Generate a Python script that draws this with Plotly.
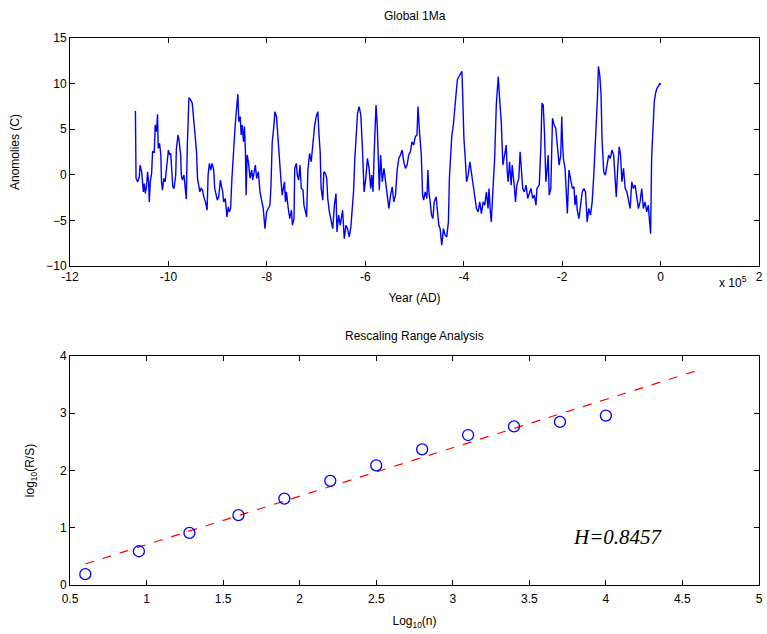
import plotly.graph_objects as go

# ---- Global temperature anomaly record, last ~1 Ma ----
# years before present in ka (thousands of years), anomaly in deg C
years_ka = [
    -1067.1, -1066.4, -1065.8, -1062.4, -1059.1, -1057.7, -1054.4, -1051.0, -1049.0, -1047.0,
    -1044.3, -1042.3, -1040.3, -1038.9, -1036.9, -1034.2, -1032.2, -1028.8, -1026.8, -1024.1,
    -1022.1, -1020.8, -1018.1, -1015.4, -1014.1, -1012.1, -1009.4, -1006.7, -1003.3, -1000.0,
    -997.3, -995.3, -993.9, -991.2, -988.6, -985.2, -983.8, -980.5, -978.5, -977.1,
    -975.1, -973.8, -971.8, -968.4, -966.4, -963.7, -961.7, -958.3, -955.0, -951.6,
    -948.3, -944.9, -942.9, -940.9, -938.9, -936.2, -933.5, -930.8, -928.1, -924.8,
    -921.4, -919.4, -916.7, -914.0, -911.3, -908.0, -906.0, -903.3, -900.6, -897.9,
    -894.5, -891.9, -889.8, -887.8, -884.5, -881.1, -878.4, -876.4, -873.7, -871.0,
    -867.7, -864.3, -861.0, -858.9, -856.9, -854.2, -852.2, -850.2, -847.5, -845.5,
    -843.5, -842.2, -840.1, -837.5, -834.1, -830.8, -828.7, -826.1, -823.4, -820.7,
    -817.3, -814.0, -810.6, -807.3, -803.9, -800.5, -797.2, -793.8, -791.8, -789.1,
    -785.8, -783.7, -780.4, -777.0, -773.6, -771.6, -768.9, -766.3, -764.2, -762.2,
    -760.2, -756.9, -753.5, -750.1, -748.1, -744.8, -743.4, -740.1, -738.1, -735.4,
    -732.7, -730.0, -726.6, -724.6, -721.9, -719.2, -716.6, -713.2, -709.9, -706.5,
    -703.1, -699.8, -696.4, -694.4, -691.7, -689.7, -686.3, -684.3, -681.0, -678.3,
    -676.3, -672.9, -669.6, -666.2, -662.8, -659.5, -657.5, -654.1, -650.8, -646.1,
    -642.7, -639.3, -636.0, -632.6, -629.3, -625.9, -623.9, -621.2, -619.2, -615.8,
    -612.5, -609.1, -605.8, -602.4, -599.0, -595.7, -592.3, -589.0, -587.0, -584.3,
    -582.3, -580.3, -578.2, -575.6, -573.5, -571.5, -568.8, -565.5, -562.1, -558.8,
    -555.4, -552.0, -548.7, -545.3, -542.0, -538.6, -535.3, -531.9, -528.5, -525.2,
    -521.8, -518.5, -515.1, -511.8, -508.4, -505.0, -501.7, -498.3, -495.0, -492.9,
    -489.6, -486.2, -483.5, -481.5, -478.2, -474.8, -472.8, -470.8, -468.1, -465.4,
    -462.7, -460.0, -456.0, -453.3, -450.6, -447.9, -444.6, -441.2, -437.9, -434.5,
    -431.1, -429.1, -426.5, -424.4, -421.1, -419.1, -415.7, -413.0, -409.7, -405.6,
    -403.6, -402.3, -399.6, -396.9, -394.2, -390.9, -387.5, -384.1, -380.8, -377.4,
    -374.1, -370.7, -367.4, -364.0, -360.6, -357.3, -353.9, -350.6, -348.6, -345.9,
    -343.9, -340.5, -337.1, -333.8, -331.8, -329.8, -327.1, -323.7, -320.4, -317.0,
    -313.6, -311.6, -309.6, -306.9, -303.6, -301.5, -298.9, -296.8, -294.8, -292.1,
    -288.1, -285.4, -283.4, -280.1, -276.7, -273.3, -270.0, -266.6, -263.3, -259.9,
    -256.6, -253.2, -251.2, -246.5, -243.1, -241.1, -238.4, -235.7, -233.1, -231.0,
    -228.4, -226.3, -223.0, -219.6, -216.3, -212.9, -210.9, -208.9, -206.2, -202.8,
    -200.8, -199.5, -197.5, -194.1, -191.4, -189.4, -186.1, -182.7, -179.3, -176.0,
    -174.0, -171.3, -169.3, -165.9, -162.6, -159.2, -155.8, -152.5, -149.1, -145.8,
    -142.4, -139.0, -135.7, -132.3, -130.3, -128.3, -126.3, -123.6, -120.9, -118.9,
    -115.5, -112.2, -108.8, -105.5, -102.1, -98.8, -95.4, -92.0, -90.0, -86.7,
    -84.0, -81.3, -78.6, -75.3, -71.9, -68.5, -65.2, -61.8, -58.5, -55.1,
    -51.7, -48.4, -45.0, -41.7, -38.3, -35.0, -31.6, -28.2, -24.9, -22.9,
    -20.2, -18.2, -14.8, -12.8, -10.1, -7.4, -4.7, -1.4, 0.0,
]
anomaly_c = [
    7.00, 3.70, -0.40, -0.77, -0.22, 1.07, 0.33, -1.87, -0.95, -2.05,
    -1.13, 0.33, -0.77, -2.97, -0.77, 0.15, 2.53, 2.46, 5.46, 4.73,
    6.64, 2.90, 3.45, 2.17, -0.77, -1.68, -0.40, -0.77, 1.07, 2.71,
    2.17, 2.35, 1.07, -1.32, -1.50, -0.03, 2.90, 4.36, 3.81, 3.26,
    2.17, -0.03, -0.58, -0.03, -1.32, -2.67, 3.08, 8.47, 8.21, 7.85,
    5.83, 3.08, 2.53, -0.40, -1.13, -1.87, -1.50, -1.68, -2.42, -2.97,
    -3.88, -0.03, 1.25, 0.52, 1.25, 0.52, -1.50, -2.23, -2.78, -2.42,
    -0.58, -1.32, -1.87, -2.97, -2.60, -4.62, -3.52, -4.07, -3.70, -0.40,
    3.08, 5.46, 7.66, 8.84, 5.83, 6.38, 4.36, 5.46, 3.63, 5.28,
    2.53, -2.23, 2.17, 1.43, -0.40, 0.52, -0.58, 0.15, 1.07, -0.40,
    0.33, -1.87, -2.78, -3.70, -5.90, -4.07, -3.70, -3.33, -1.50, 3.63,
    5.28, 6.93, 6.38, 3.26, 1.07, -0.40, -2.23, -1.50, -0.77, -2.97,
    -1.87, -3.52, -4.80, -3.88, -5.53, -4.80, 0.70, 1.25, -0.03, -0.58,
    1.07, -1.50, -1.68, -3.33, -4.07, -4.62, 0.52, 2.35, 1.43, 3.45,
    5.28, 6.38, 6.93, 4.73, 2.53, -1.50, -2.78, 0.33, 0.15, -0.40,
    -2.60, -4.07, -4.80, -5.90, -3.33, -2.05, -6.26, -4.43, -5.53, -3.88,
    -7.00, -5.53, -5.90, -6.81, -5.71, -2.97, -1.87, 1.80, 4.36, 6.75,
    7.48, 6.56, 2.90, -1.87, -0.40, 1.80, 0.70, -1.50, -0.03, -1.87,
    1.80, 5.10, 7.66, 5.28, 0.70, -1.68, 2.17, -0.77, 0.70, -0.95,
    -2.23, -3.70, -2.23, -1.32, -2.97, -2.23, 0.52, 1.80, 2.17, 2.71,
    1.43, 0.70, 1.07, 2.17, 2.53, 3.63, 3.26, 4.18, 4.36, 7.48,
    4.55, 2.17, -2.23, -2.78, -1.87, -2.60, 0.52, -1.87, -2.97, -4.43,
    -4.80, -2.97, -2.42, -3.70, -5.53, -5.90, -7.73, -5.90, -6.63, -6.81,
    -5.17, -0.40, 2.90, 4.18, 5.46, 6.75, 8.95, 10.41, 10.78, 11.14,
    11.33, 9.13, 4.00, 1.80, -0.77, -0.03, 1.43, 0.15, -1.13, -1.87,
    -3.70, -4.07, -2.97, -4.25, -2.97, -3.33, -1.87, -3.70, -1.50, -4.07,
    -5.17, -1.50, 1.80, 7.66, 9.31, 10.78, 8.40, 5.83, 1.07, 2.17,
    3.26, 0.33, -0.77, 1.43, -1.13, 1.07, -0.03, -1.50, -2.97, -1.13,
    -0.40, 2.53, 1.07, -1.50, -1.87, -1.13, -2.60, -1.87, -1.50, -2.60,
    -2.23, -3.33, -1.50, -1.13, 3.26, 7.85, 7.66, 4.36, -0.77, 0.33,
    2.17, -2.23, -1.50, 6.20, 5.46, 5.10, 3.63, 2.17, 1.07, 2.17,
    6.38, 4.00, 1.80, 0.70, -1.50, -4.25, 0.52, -0.40, -1.50, -1.32,
    -3.33, -2.23, -3.88, -4.80, -3.33, -1.87, -1.50, -1.87, -5.17, -3.70,
    -4.43, -2.97, -0.03, 3.45, 5.28, 8.40, 11.88, 10.96, 8.76, 3.81,
    0.33, -0.03, 1.07, 2.17, 1.80, 2.71, 2.17, -1.50, -2.42, 1.07,
    3.08, 2.17, -0.77, 0.70, -1.50, -1.87, -2.60, -3.70, -0.77, -1.50,
    -1.13, -2.23, -3.70, -2.97, -1.50, -3.70, -2.97, -4.07, -3.33, -4.80,
    -6.45, 1.80, 6.01, 8.03, 8.95, 9.49, 9.68, 10.04, 9.86,
]

# ---- Rescaled range (R/S) analysis ----
log_n = [0.6, 0.95, 1.28, 1.6, 1.9, 2.2, 2.5, 2.8, 3.1, 3.4, 3.7, 4.0]
log_rs = [0.19, 0.59, 0.91, 1.22, 1.51, 1.82, 2.09, 2.37, 2.62, 2.77, 2.85, 2.96]

hurst = 0.8457
fit_intercept = -0.14
fit_x = [0.6, 4.6]
fit_y = [hurst * x + fit_intercept for x in fit_x]

year_ticks = [-12, -10, -8, -6, -4, -2, 0, 2]          # units of 1e5 years
anom_ticks = [-10, -5, 0, 5, 10, 15]
logn_ticks = [0.5, 1, 1.5, 2, 2.5, 3, 3.5, 4, 4.5, 5]
logrs_ticks = [0, 1, 2, 3, 4]

years = [y * 1000 for y in years_ka]

FONT = "Liberation Sans"
BLUE = "rgb(0,0,255)"
RED = "rgb(255,0,0)"

fig = go.Figure()

fig.add_trace(go.Scatter(
    x=years, y=anomaly_c, mode="lines",
    line=dict(color=BLUE, width=1.4),
    xaxis="x", yaxis="y", showlegend=False,
))

fig.add_trace(go.Scatter(
    x=fit_x, y=fit_y, mode="lines",
    line=dict(color=RED, width=1.2, dash="dash"),
    xaxis="x2", yaxis="y2", showlegend=False,
))
fig.add_trace(go.Scatter(
    x=log_n, y=log_rs, mode="markers",
    marker=dict(symbol="circle-open", size=11, color=BLUE, line=dict(width=1.3, color=BLUE)),
    xaxis="x2", yaxis="y2", showlegend=False,
))

axis_common = dict(
    showline=True, linecolor="black", linewidth=1, mirror="ticks",
    ticks="inside", ticklen=5, tickcolor="black", tickwidth=1,
    showgrid=False, zeroline=False,
    tickfont=dict(family=FONT, size=12, color="black"),
)

top_bottom = 0.5832
bot_top = 0.4186

fig.update_layout(
    width=767, height=634,
    margin=dict(l=70, r=4, t=38, b=49),
    paper_bgcolor="white", plot_bgcolor="white",
    font=dict(family=FONT, size=12, color="black"),
    xaxis=dict(
        axis_common, domain=[0, 1], anchor="y",
        range=[-1.2e6, 2e5],
        tickvals=[t * 1e5 for t in year_ticks],
        ticktext=[str(t) for t in year_ticks],
        title=dict(text="Year (AD)", font=dict(family=FONT, size=12), standoff=10),
    ),
    yaxis=dict(
        axis_common, domain=[top_bottom, 1], anchor="x",
        range=[-10, 15], tickvals=anom_ticks,
        title=dict(text="Anomolies (C)", font=dict(family=FONT, size=12), standoff=24),
    ),
    xaxis2=dict(
        axis_common, domain=[0, 1], anchor="y2",
        range=[0.5, 5], tickvals=logn_ticks,
        ticktext=[("%g" % t) for t in logn_ticks],
        ticklabelstandoff=3,
        title=dict(text="Log<sub>10</sub>(n)", font=dict(family=FONT, size=12), standoff=11),
    ),
    yaxis2=dict(
        axis_common, domain=[0, bot_top], anchor="x2",
        range=[0, 4], tickvals=logrs_ticks,
        title=dict(text="log<sub>10</sub>(R/S)", font=dict(family=FONT, size=12), standoff=22),
    ),
    annotations=[
        dict(text="Global 1Ma", xref="paper", yref="paper", x=0.5, y=1.0,
             yanchor="bottom", yshift=13, showarrow=False,
             font=dict(family=FONT, size=12)),
        dict(text="Rescaling Range Analysis", xref="paper", yref="paper", x=0.5, y=bot_top,
             yanchor="bottom", yshift=11, showarrow=False,
             font=dict(family=FONT, size=12)),
        dict(text="x 10<sup>5</sup>", xref="paper", yref="paper", x=0.985, y=top_bottom,
             xanchor="right", yanchor="top", yshift=-6, showarrow=False,
             font=dict(family=FONT, size=12)),
        dict(text="<i>H=0.8457</i>", xref="x2", yref="y2", x=4.08, y=0.84,
             showarrow=False, font=dict(family="Liberation Serif", size=21)),
    ],
)

fig.write_html("out.html")
